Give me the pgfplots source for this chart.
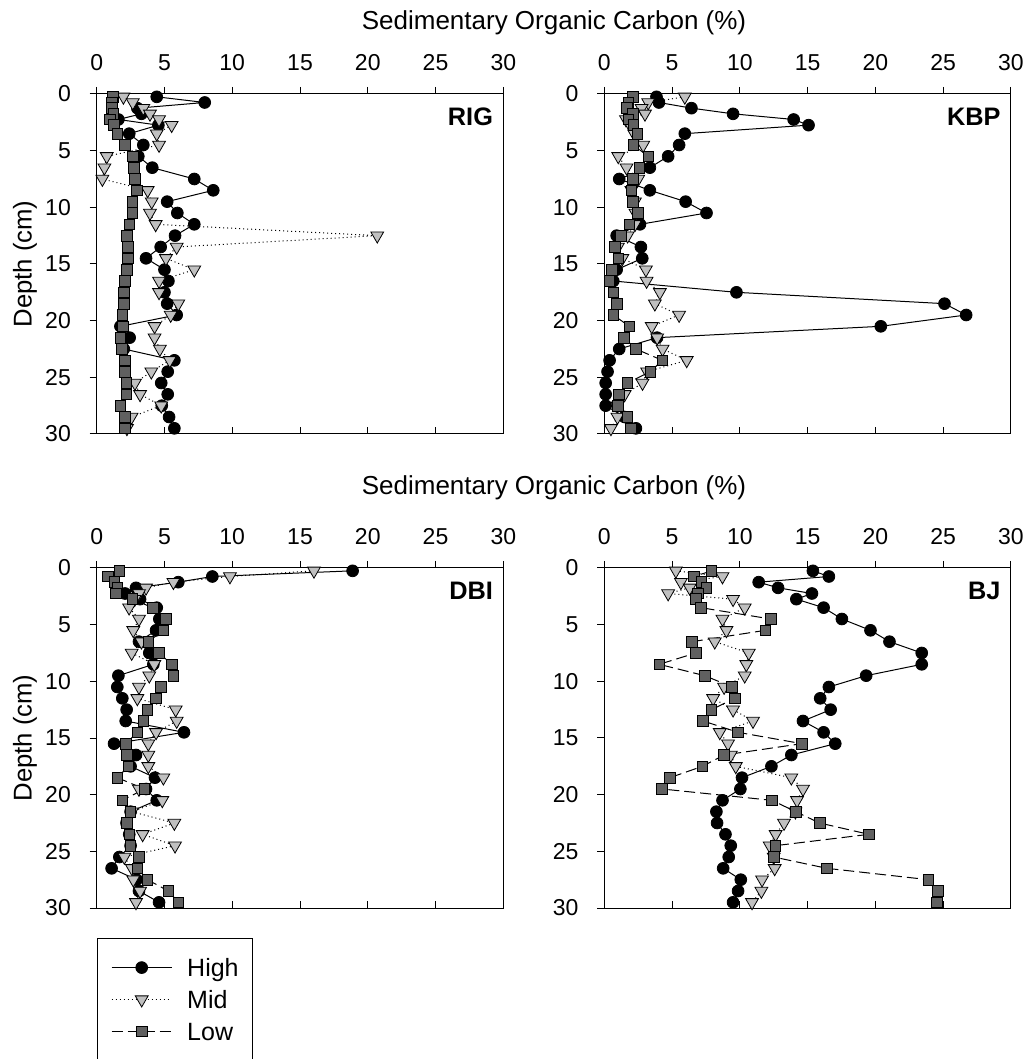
\documentclass[border=0pt]{standalone}
\usepackage{pgfplots}
\pgfplotsset{compat=1.18}
\usepackage{fontspec}
\setmainfont{Liberation Sans}
\definecolor{midgray}{RGB}{192,192,192}
\definecolor{lowgray}{RGB}{96,96,96}
\pgfplotsset{
  panel/.style={
    scale only axis, width=406.6pt, height=340pt,
    xmin=0, xmax=30, ymin=0, ymax=30, y dir=reverse,
    xtick={0,5,...,30}, ytick={0,5,...,30},
    xtick pos=upper, xticklabel pos=upper, ytick pos=left,
    tick align=outside, major tick length=7pt,
    axis line style={line width=1pt},
    every tick/.style={black, line width=1pt},
    /pgf/number format/assume math mode=true,
    tick label style={font=\fontsize{23}{27}\selectfont, inner sep=0pt},
    xticklabel style={anchor=base, yshift=16pt},
    yticklabel style={anchor=east, xshift=-18.7pt},
    ylabel style={font=\fontsize{25.7}{30}\selectfont, at={(axis description cs:-0.1763,0.5)}, anchor=center},
    clip=false,
  },
  bticks/.style={
    scale only axis, width=406.6pt, height=340pt,
    xmin=0, xmax=30, ymin=0, ymax=30,
    xtick={5,10,...,25}, ytick=\empty, xticklabels={},
    xtick pos=lower, tick align=inside, major tick length=7pt,
    axis line style={draw=none}, every tick/.style={black, line width=1pt},
  },
  high/.style={black, line width=1pt, mark=*, mark size=5.9pt, mark options={solid, fill=black, draw=black, line width=0.8pt}},
  mid/.style={black, line width=1pt, dash pattern=on 1pt off 3pt, mark=triangle*, mark size=7.4pt, mark options={solid, rotate=180, fill=midgray, draw=black, line width=0.8pt}},
  low/.style={black, line width=1pt, dash pattern=on 11pt off 5pt, mark=square*, mark size=5.3pt, mark options={solid, fill=lowgray, draw=black, line width=0.8pt}},
}
\newcommand{\plab}[1]{\node[anchor=east, inner sep=0pt, font=\bfseries\fontsize{25.3}{30}\selectfont] at (axis description cs:0.975,0.932) {#1};}
\begin{document}
\begin{tikzpicture}
\path[use as bounding box] (0,0) rectangle (1032pt,1059pt);
\node[font=\fontsize{26}{31}\selectfont] at (554pt,1036pt) {Sedimentary Organic Carbon (\%)};
\node[font=\fontsize{26}{31}\selectfont] at (554pt,571pt) {Sedimentary Organic Carbon (\%)};

% ---------- RIG ----------
\begin{axis}[panel, at={(96.7pt,625pt)}, anchor=south west, ylabel={Depth (cm)}]
\addplot[high] coordinates {(4.43,0.25)(7.97,0.75)(3.0,1.25)(3.3,1.75)(1.6,2.25)(4.55,2.75)(2.4,3.5)(3.44,4.5)(3.07,5.5)(4.1,6.5)(7.2,7.5)(8.6,8.5)(5.2,9.5)(5.95,10.5)(7.2,11.5)(5.78,12.5)(4.72,13.5)(3.64,14.5)(5.0,15.5)(5.29,16.5)(5.0,17.5)(5.2,18.5)(5.9,19.5)(1.75,20.5)(2.43,21.5)(2.0,22.5)(5.73,23.5)(5.24,24.5)(4.76,25.5)(5.24,26.5)(4.8,27.5)(5.34,28.5)(5.73,29.5)};
\addplot[mid] coordinates {(1.97,0.25)(2.66,0.75)(3.44,1.25)(3.93,1.75)(4.6,2.25)(5.53,2.75)(4.43,3.5)(4.6,4.5)(0.74,5.5)(0.57,6.5)(0.42,7.5)(3.76,8.5)(4.06,9.5)(3.93,10.5)(4.35,11.5)(20.7,12.5)(5.9,13.5)(5.11,14.5)(7.2,15.5)(4.6,16.5)(4.6,17.5)(6.02,18.5)(5.46,19.5)(4.27,20.5)(4.27,21.5)(4.66,22.5)(5.39,23.5)(4.03,24.5)(2.82,25.5)(3.2,26.5)(4.76,27.5)(2.57,28.5)(2.23,29.5)};
\addplot[low] coordinates {(1.18,0.25)(1.1,0.75)(1.1,1.25)(1.23,1.75)(0.98,2.25)(1.28,2.75)(1.52,3.5)(2.09,4.5)(2.66,5.5)(2.75,6.5)(2.83,7.5)(2.95,8.5)(2.63,9.5)(2.63,10.5)(2.41,11.5)(2.21,12.5)(2.29,13.5)(2.29,14.5)(2.21,15.5)(2.09,16.5)(2.02,17.5)(2.02,18.5)(1.89,19.5)(1.94,20.5)(1.75,21.5)(1.84,22.5)(2.09,23.5)(2.09,24.5)(2.18,25.5)(2.18,26.5)(1.75,27.5)(2.09,28.5)(2.09,29.5)};
\plab{RIG}
\end{axis}
\begin{axis}[bticks, at={(96.7pt,625pt)}, anchor=south west]\end{axis}

% ---------- KBP ----------
\begin{axis}[panel, at={(604.3pt,625pt)}, anchor=south west]
\addplot[high] coordinates {(3.85,0.25)(4.03,0.75)(6.43,1.25)(9.5,1.75)(13.97,2.25)(15.07,2.75)(5.94,3.5)(5.52,4.5)(4.71,5.5)(3.36,6.5)(1.1,7.5)(3.36,8.5)(6.0,9.5)(7.54,10.5)(2.63,11.5)(0.91,12.5)(2.7,13.5)(2.8,14.5)(0.91,15.5)(0.66,16.5)(9.75,17.5)(25.1,18.5)(26.7,19.5)(20.4,20.5)(3.89,21.5)(1.1,22.5)(0.39,23.5)(0.24,24.5)(0.1,25.5)(0.1,26.5)(0.1,27.5)(1.5,28.5)(2.33,29.5)};
\addplot[mid] coordinates {(5.94,0.25)(3.24,0.75)(2.75,1.25)(3.0,1.75)(1.6,2.25)(1.9,2.75)(2.2,3.5)(2.87,4.5)(1.03,5.5)(1.64,6.5)(2.5,7.5)(2.0,8.5)(2.26,9.5)(2.3,10.5)(2.26,11.5)(1.72,12.5)(1.0,13.5)(1.33,14.5)(3.07,15.5)(3.12,16.5)(4.1,17.5)(3.73,18.5)(5.52,19.5)(3.5,20.5)(3.9,21.5)(4.3,22.5)(6.08,23.5)(3.16,24.5)(2.82,25.5)(1.5,26.5)(0.97,27.5)(0.97,28.5)(0.49,29.5)};
\addplot[low] coordinates {(2.09,0.25)(1.77,0.75)(1.65,1.25)(2.09,1.75)(1.77,2.25)(2.14,2.75)(2.43,3.5)(2.14,4.5)(3.24,5.5)(2.58,6.5)(2.09,7.5)(2.01,8.5)(2.09,9.5)(2.5,10.5)(1.84,11.5)(1.23,12.5)(0.79,13.5)(1.03,14.5)(0.54,15.5)(0.37,16.5)(0.66,17.5)(0.91,18.5)(0.66,19.5)(1.85,20.5)(1.46,21.5)(2.33,22.5)(4.28,23.5)(3.4,24.5)(1.7,25.5)(1.07,26.5)(1.0,27.5)(1.7,28.5)(1.94,29.5)};
\plab{KBP}
\end{axis}
\begin{axis}[bticks, at={(604.3pt,625pt)}, anchor=south west]\end{axis}

% ---------- DBI ----------
\begin{axis}[panel, at={(96.7pt,151pt)}, anchor=south west, ylabel={Depth (cm)},
  legend style={at={(axis description cs:0,-0.0885)}, anchor=north west, draw=black, line width=1pt,
    inner xsep=14pt, inner ysep=20pt, font=\fontsize{25}{30}\selectfont, row sep=14pt,
    nodes={inner sep=0pt, text height=18pt, text depth=0pt},
    /tikz/every odd column/.append style={column sep=15pt}},
  legend cell align=left,
  legend image code/.code={\draw[mark repeat=2, mark phase=2, #1] plot coordinates {(0pt,0pt) (30pt,0pt) (60pt,0pt)};}]
\addplot[high] coordinates {(18.88,0.25)(8.53,0.75)(6.02,1.25)(2.9,1.75)(2.09,2.25)(3.2,2.75)(4.43,3.5)(4.62,4.5)(4.38,5.5)(3.12,6.5)(3.88,7.5)(4.18,8.5)(1.6,9.5)(1.52,10.5)(1.89,11.5)(2.21,12.5)(2.14,13.5)(6.44,14.5)(1.28,15.5)(2.9,16.5)(2.5,17.5)(4.3,18.5)(3.64,19.5)(4.43,20.5)(2.5,21.5)(2.2,22.5)(2.4,23.5)(2.5,24.5)(1.67,25.5)(1.1,26.5)(2.95,27.5)(3.12,28.5)(4.6,29.5)};
\addlegendentry{High}
\addplot[mid] coordinates {(16.03,0.25)(9.83,0.75)(5.66,1.25)(3.64,1.75)(3.12,2.25)(2.8,2.75)(2.39,3.5)(3.12,4.5)(2.7,5.5)(3.3,6.5)(2.58,7.5)(4.25,8.5)(3.88,9.5)(3.12,10.5)(3.0,11.5)(5.83,12.5)(5.9,13.5)(4.38,14.5)(3.81,15.5)(3.81,16.5)(3.81,17.5)(4.92,18.5)(3.12,19.5)(4.84,20.5)(2.6,21.5)(5.73,22.5)(3.39,23.5)(5.78,24.5)(2.04,25.5)(2.6,26.5)(2.7,27.5)(3.2,28.5)(2.9,29.5)};
\addlegendentry{Mid}
\addplot[low] coordinates {(1.67,0.25)(0.81,0.75)(1.3,1.25)(1.52,1.75)(1.4,2.25)(2.63,2.75)(4.13,3.5)(5.11,4.5)(4.92,5.5)(3.81,6.5)(4.6,7.5)(5.53,8.5)(5.66,9.5)(4.75,10.5)(4.35,11.5)(3.74,12.5)(3.44,13.5)(3.0,14.5)(2.14,15.5)(2.21,16.5)(2.34,17.5)(1.52,18.5)(3.52,19.5)(1.89,20.5)(2.5,21.5)(2.21,22.5)(2.41,23.5)(2.5,24.5)(3.12,25.5)(3.0,26.5)(3.74,27.5)(5.29,28.5)(6.02,29.5)};
\addlegendentry{Low}
\plab{DBI}
\end{axis}
\begin{axis}[bticks, at={(96.7pt,151pt)}, anchor=south west]\end{axis}

% ---------- BJ ----------
\begin{axis}[panel, at={(604.3pt,151pt)}, anchor=south west]
\addplot[high] coordinates {(15.39,0.25)(16.57,0.75)(11.39,1.25)(12.82,1.75)(15.32,2.25)(14.17,2.75)(16.18,3.5)(17.53,4.5)(19.64,5.5)(21.04,6.5)(23.42,7.5)(23.42,8.5)(19.32,9.5)(16.57,10.5)(15.93,11.5)(16.7,12.5)(14.66,13.5)(16.18,14.5)(17.04,15.5)(13.8,16.5)(12.33,17.5)(10.16,18.5)(10.04,19.5)(8.72,20.5)(8.27,21.5)(8.32,22.5)(8.94,23.5)(9.33,24.5)(9.18,25.5)(8.77,26.5)(10.07,27.5)(9.87,28.5)(9.5,29.5)};
\addplot[mid] coordinates {(5.28,0.25)(8.72,0.75)(5.65,1.25)(6.3,1.75)(4.71,2.25)(9.5,2.75)(10.36,3.5)(8.72,4.5)(9.01,5.5)(8.15,6.5)(10.66,7.5)(10.48,8.5)(10.36,9.5)(8.84,10.5)(8.03,11.5)(9.5,12.5)(10.97,13.5)(8.52,14.5)(9.13,15.5)(9.33,16.5)(9.7,17.5)(13.8,18.5)(14.66,19.5)(14.22,20.5)(14.1,21.5)(13.26,22.5)(12.64,23.5)(12.2,24.5)(12.5,25.5)(12.57,26.5)(11.64,27.5)(11.59,28.5)(10.9,29.5)};
\addplot[low] coordinates {(7.91,0.25)(6.63,0.75)(7.17,1.25)(7.54,1.75)(6.92,2.25)(6.75,2.75)(7.12,3.5)(12.28,4.5)(11.88,5.5)(6.48,6.5)(6.75,7.5)(4.05,8.5)(7.41,9.5)(9.43,10.5)(9.62,11.5)(7.91,12.5)(7.29,13.5)(9.87,14.5)(14.58,15.5)(8.84,16.5)(7.24,17.5)(4.84,18.5)(4.27,19.5)(12.37,20.5)(14.12,21.5)(15.89,22.5)(19.52,23.5)(12.62,24.5)(12.5,25.5)(16.43,26.5)(23.91,27.5)(24.6,28.5)(24.55,29.5)};
\plab{BJ}
\end{axis}
\begin{axis}[bticks, at={(604.3pt,151pt)}, anchor=south west]\end{axis}
\end{tikzpicture}
\end{document}
